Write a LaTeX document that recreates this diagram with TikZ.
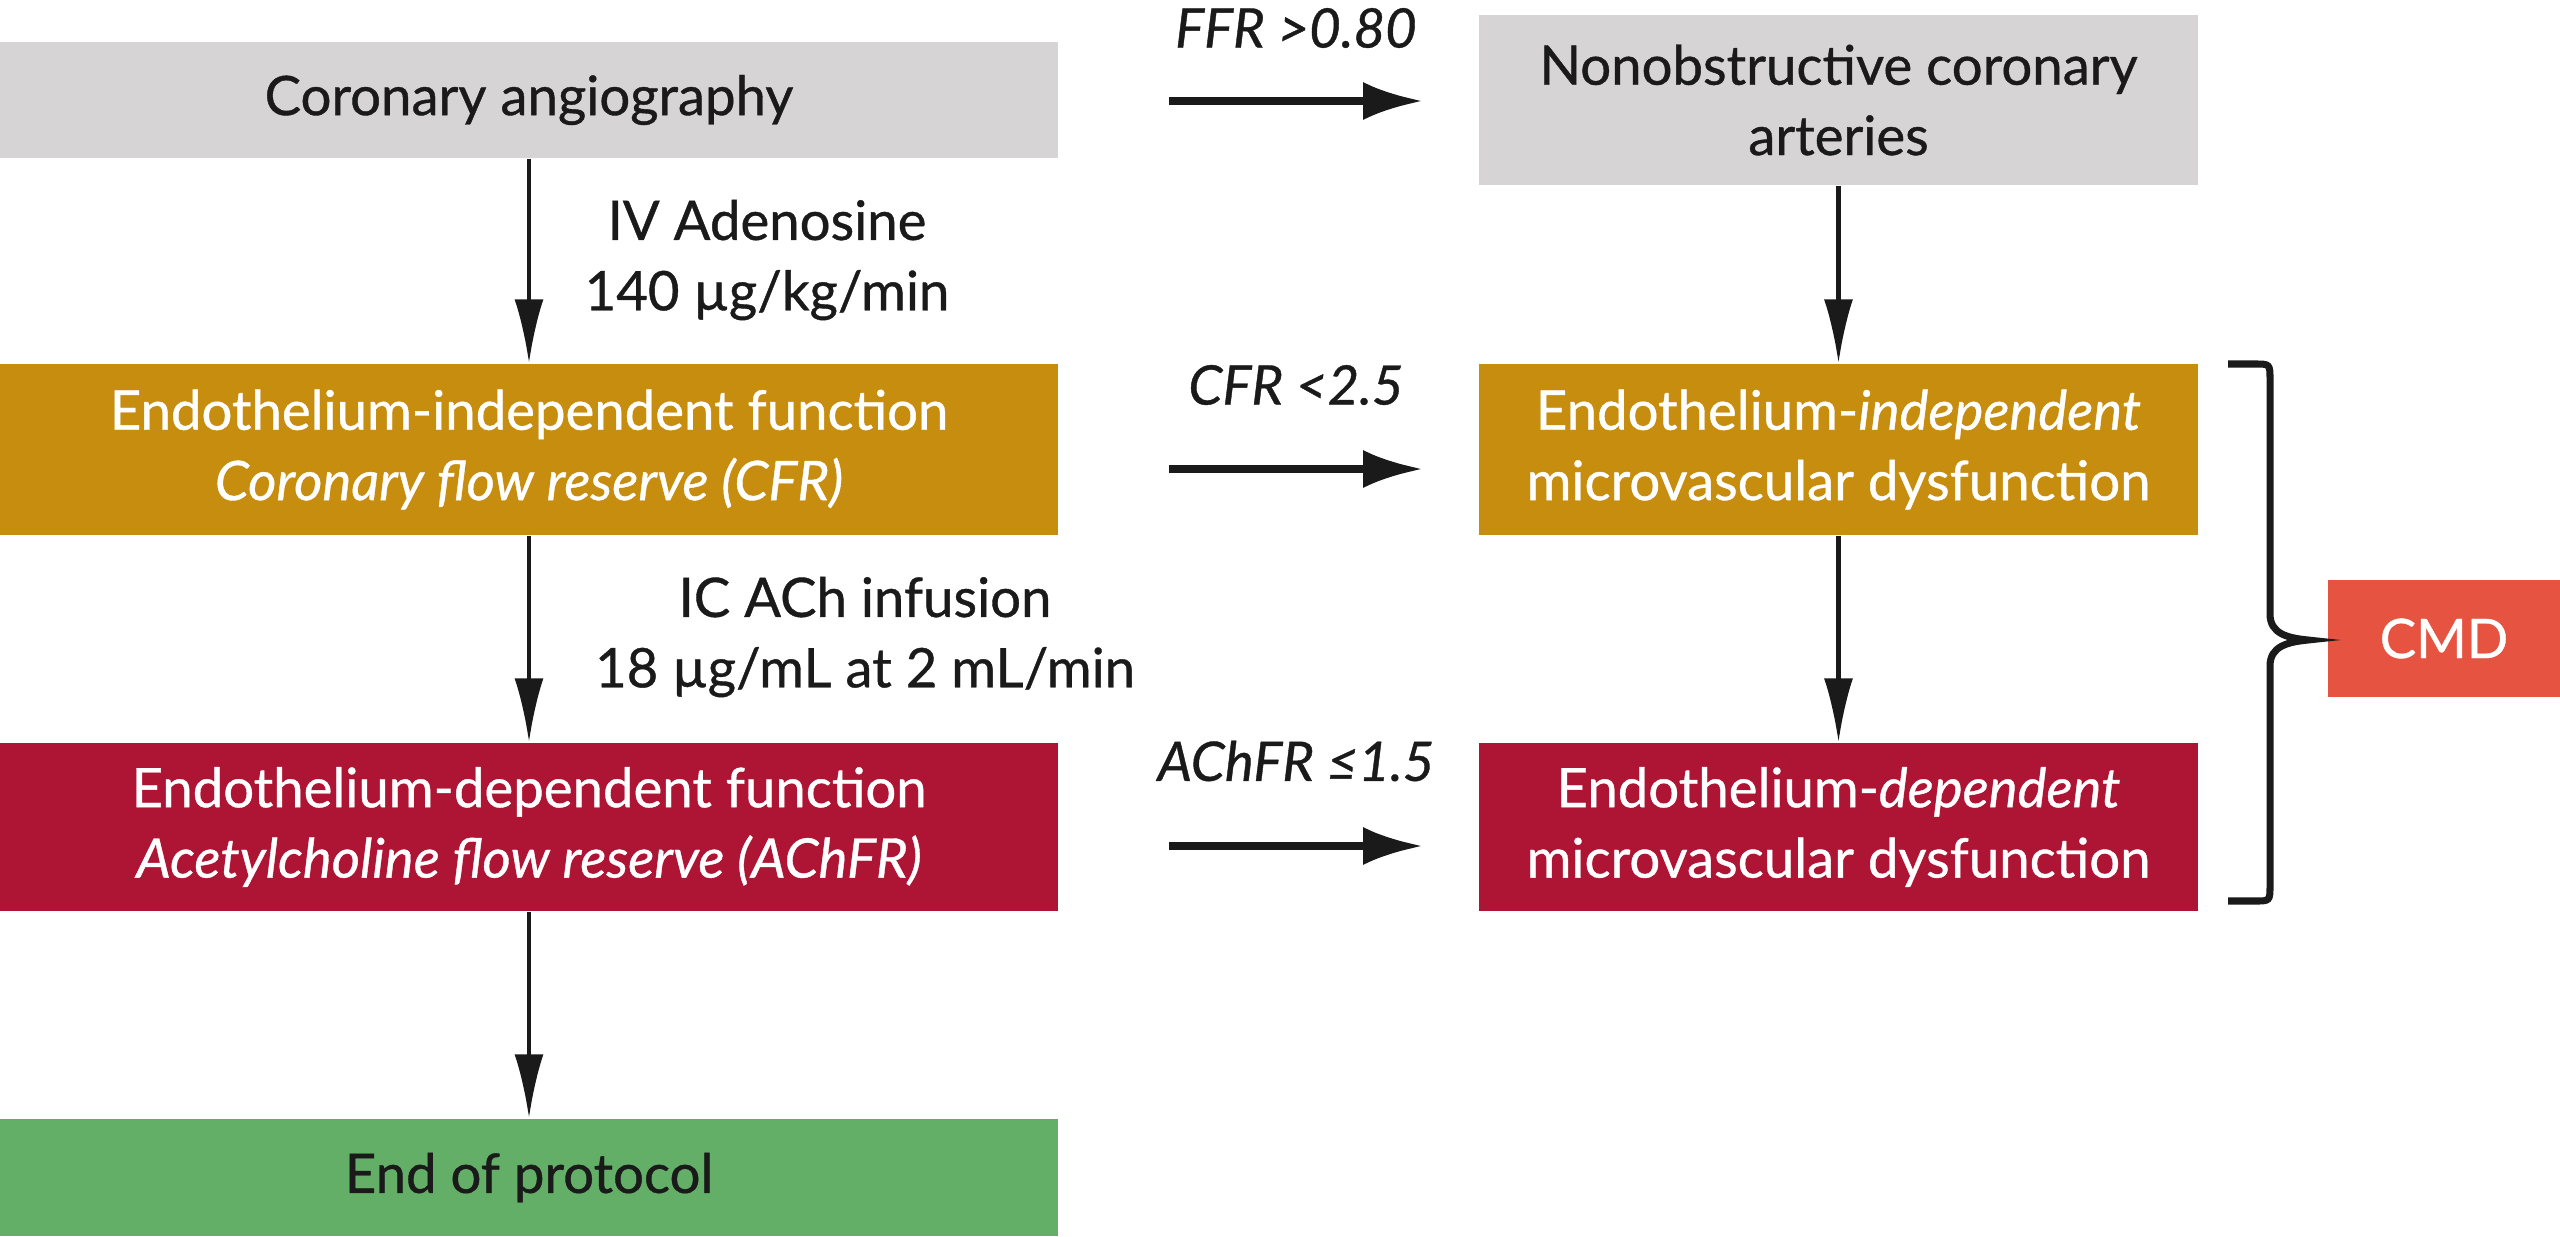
\documentclass[tikz,border=0pt]{standalone}
\usepackage{fontspec}
\setmainfont{Lato}[FakeBold=0.7]
\usetikzlibrary{arrows.meta}
\usetikzlibrary{positioning}
\definecolor{cmd-grey}{HTML}{D6D4D5}
\definecolor{cmd-gold}{HTML}{C68D0E}
\definecolor{cmd-crimson}{HTML}{AE1434}
\definecolor{cmd-green}{HTML}{63AF68}
\definecolor{cmd-red}{HTML}{E65340}
\definecolor{cmd-ink}{HTML}{1A1A1A}

\begin{document}
\begin{tikzpicture}[x=0.01cm, y=-0.01cm,
    every node/.style={font=\fontsize{15.5}{20}\selectfont, align=center},
    box/.style={rectangle, inner sep=0pt, minimum height=#1*0.01cm},
    leftbox/.style={box=#1, minimum width=10.58cm},
    rightbox/.style={box=#1, minimum width=7.19cm},
    varrow/.style={cmd-ink, line width=1.2pt, -{Latex[length=0.64cm, width=0.29cm]}},
    harrow/.style={cmd-ink, line width=2.2pt, -{Latex[length=0.6cm, width=0.38cm]}, shorten >=0.55cm},
    cutoff/.style={text=cmd-ink, font=\fontsize{15.5}{20}\selectfont\itshape}]
\useasboundingbox (0,0) rectangle (2560,1236);

% left column
\node[leftbox=116, fill=cmd-grey, text=cmd-ink] (angio) at (529,100) {Coronary angiography};
\node[leftbox=171, fill=cmd-gold, text=white] (indep) at (529,449.5) {Endothelium-independent function\\\itshape Coronary flow reserve (CFR)};
\node[leftbox=168, fill=cmd-crimson, text=white] (dep) at (529,827) {Endothelium-dependent function\\\itshape Acetylcholine flow reserve (AChFR)};
\node[leftbox=117, fill=cmd-green, text=cmd-ink] (endp) at (529,1177.5) {End of protocol};

% right column
\node[rightbox=170, fill=cmd-grey, text=cmd-ink] (nonob) at (1838.5,100) {Nonobstructive coronary\\arteries};
\node[rightbox=171, fill=cmd-gold, text=white] (rindep) at (1838.5,449.5) {Endothelium-\textit{independent}\\microvascular dysfunction};
\node[rightbox=168, fill=cmd-crimson, text=white] (rdep) at (1838.5,827) {Endothelium-\textit{dependent}\\microvascular dysfunction};
\node[box=117, minimum width=2.32cm, fill=cmd-red, text=white] (cmd) at (2444,638.5) {CMD};

% protocol steps
\draw[varrow] (angio) -- (indep);
\draw[varrow] (indep) -- (dep);
\draw[varrow] (dep) -- (endp);
\node[text=cmd-ink] (adeno) at (767,260) {IV Adenosine\\140 µg/kg/min};
\node[text=cmd-ink] (ach) at (865,637) {IC ACh infusion\\18 µg/mL at 2 mL/min};

% cut-off values
\coordinate (ffr) at (1169,101);
\coordinate (cfr) at (1169,469);
\coordinate (achfr) at (1169,846);
\draw[harrow] (ffr) -- (ffr -| nonob.west);
\draw[harrow] (cfr) -- (cfr -| rindep.west);
\draw[harrow] (achfr) -- (achfr -| rdep.west);
\node[cutoff] (ffrlabel) at (1296,28) {FFR >0.80};
\node[cutoff] (cfrlabel) at (1296,385) {CFR <2.5};
\node[cutoff] (achfrlabel) at (1296,761) {AChFR ≤1.5};

\draw[varrow] (nonob) -- (rindep);
\draw[varrow] (rindep) -- (rdep);

% brace
\draw[cmd-ink, line width=2pt] (2228,364) -- (2255,364) .. controls (2270,364) .. (2270,380) -- (2270,614)
    .. controls (2270,634) and (2288,638) .. (2308,640)
    .. controls (2288,642) and (2270,646) .. (2270,666) -- (2270,885)
    .. controls (2270,901) .. (2255,901) -- (2228,901);
\end{tikzpicture}
\end{document}
